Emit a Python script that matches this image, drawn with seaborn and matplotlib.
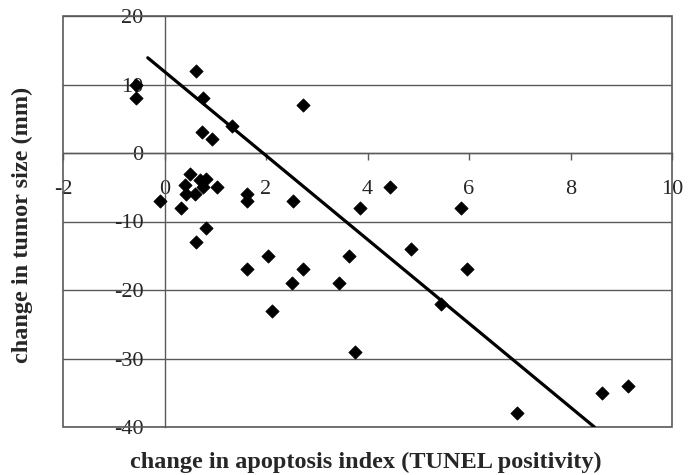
import matplotlib
matplotlib.use("Agg")
import matplotlib.pyplot as plt
from matplotlib.patches import Rectangle
import seaborn as sns

# change in apoptosis index (TUNEL positivity)
apoptosis_change = [-0.57, -0.57, 0.63, 0.75, 1.33, 0.73, 0.93, 2.73, 0.51, 0.40,
                    0.42, 0.61, 0.70, 0.82, 0.76, 1.04, 1.62, 1.62, 2.53, -0.08,
                    0.32, 3.85, 4.45, 5.84, 0.81, 0.63, 1.62, 2.03, 2.11, 2.51,
                    2.73, 3.43, 3.64, 3.75, 4.85, 5.96, 5.45, 6.94, 8.63, 9.14]
# change in tumor size (mm)
tumor_change = [10, 8, 12, 8, 4, 3, 2, 7, -3, -4.7,
                -6, -6, -4, -3.8, -5, -5, -6, -7, -7, -7,
                -8, -8, -5, -8, -11, -13, -17, -15, -23, -19,
                -17, -19, -15, -29, -14, -17, -22, -38, -35, -34]

# trend line end points
trend_x = [-0.33, 8.47]
trend_y = [13.9, -40.0]

x_ticks = [-2, 0, 2, 4, 6, 8, 10]
y_ticks = [-40, -30, -20, -10, 0, 10, 20]

sns.set_style("white")
plt.rcParams['font.family'] = ['Liberation Serif', 'DejaVu Serif']

fig = plt.figure(figsize=(6.97, 4.75), dpi=100)
ax = fig.add_axes([63 / 697, 48 / 475, 609 / 697, 411 / 475])

grid_col = '#5a5a5a'

sns.lineplot(x=trend_x, y=trend_y, ax=ax, color='black', linewidth=2.3, zorder=3)
sns.scatterplot(x=apoptosis_change, y=tumor_change, ax=ax, marker='D', color='black',
                s=46, edgecolor='black', linewidth=0.5, zorder=4)

ax.set_xlim(-2, 10)
ax.set_ylim(-40, 20)
ax.set_xticks(x_ticks)
ax.set_yticks(y_ticks)
ax.set_xticklabels([str(v) for v in x_ticks])
ax.set_yticklabels([str(v) for v in y_ticks])

for s in ['top', 'right']:
    ax.spines[s].set_visible(False)
ax.spines['left'].set_position(('data', 0))
ax.spines['bottom'].set_position(('data', 0))
for s in ['left', 'bottom']:
    ax.spines[s].set_color(grid_col)
    ax.spines[s].set_linewidth(1.0)
    ax.spines[s].set_zorder(1)

ax.yaxis.grid(True, color=grid_col, linewidth=1.0)
ax.xaxis.grid(False)
ax.set_axisbelow(True)

ax.add_patch(Rectangle((0, 0), 1, 1, transform=ax.transAxes, fill=False,
                       edgecolor=grid_col, linewidth=1.2, clip_on=False, zorder=1))

ax.tick_params(axis='x', direction='out', length=5, width=1, color=grid_col,
               pad=14.5, labelsize=16, bottom=True)
ax.tick_params(axis='y', length=0, pad=15, labelsize=16)

ax.set_xlabel('')
ax.set_ylabel('')
fig.text(366 / 697, 1 - 462 / 475, 'change in apoptosis index (TUNEL positivity)',
         ha='center', va='center', fontsize=17.5, fontweight='bold')
fig.text(22 / 697, 1 - 225 / 475, 'change in tumor size (mm)',
         ha='center', va='center', rotation=90, fontsize=17.5, fontweight='bold')

fig.savefig('out.png', dpi=100)
